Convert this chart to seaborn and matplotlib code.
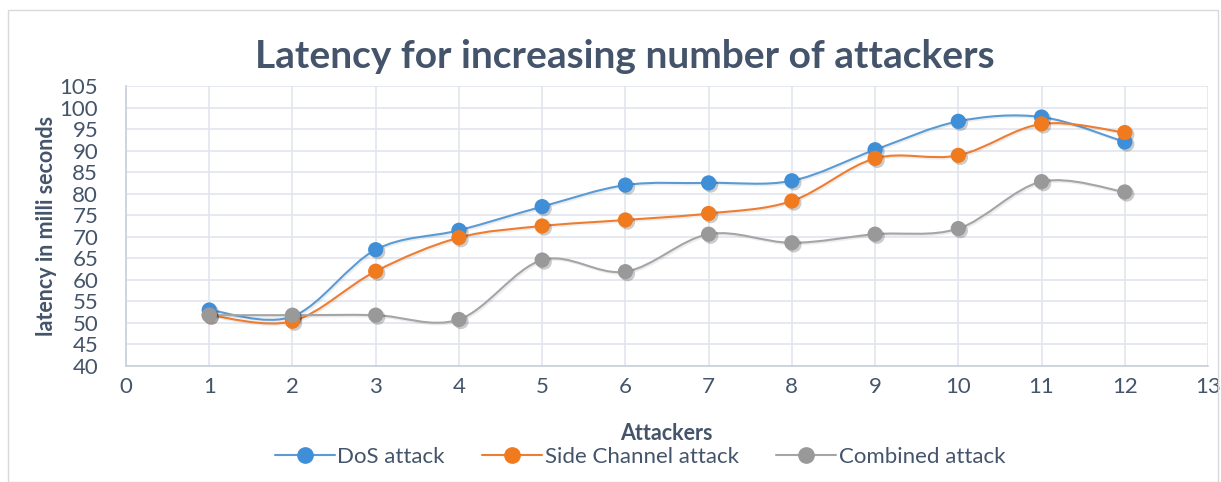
import numpy as np
import pandas as pd
import seaborn as sns
import matplotlib.pyplot as plt
from matplotlib.path import Path
from matplotlib.patches import PathPatch, Rectangle
from matplotlib.lines import Line2D
import matplotlib.patheffects as pe

# Datos
attackers = [1, 2, 3, 4, 5, 6, 7, 8, 9, 10, 11, 12]
dos_attack = [53.0, 51.5, 67.0, 71.5, 77.0, 82.0, 82.5, 83.0, 90.2, 96.8, 97.8, 92.0]
side_channel = [51.8, 50.4, 62.0, 69.8, 72.5, 73.9, 75.4, 78.3, 88.2, 88.9, 96.2, 94.2]
combined = [51.8, 51.8, 51.8, 50.8, 64.6, 61.9, 70.6, 68.6, 70.6, 71.9, 82.8, 80.4]

series_names = ["DoS attack", "Side Channel attack", "Combined attack"]
colores = ["#5B9BD5", "#ED7D31", "#A5A5A5"]
marcadores = ["#3F8FD8", "#F07A1E", "#999999"]
texto = "#44546A"

df = pd.DataFrame({
    "Attackers": attackers * 3,
    "latency": dos_attack + side_channel + combined,
    "serie": [n for n in series_names for _ in attackers],
})

sns.set_theme(style="white")
plt.rcParams["font.family"] = ["Lato", "DejaVu Sans"]

fig = plt.figure(figsize=(12.21, 4.82), dpi=100)
ax = fig.add_axes([126 / 1221, 1 - 366 / 482, (1208 - 126) / 1221, (366 - 86) / 482])


def suavizar(xs, ys):
    """Curva tipo Excel (Catmull-Rom convertido a Bezier cubico)"""
    pts = np.column_stack([xs, ys]).astype(float)
    ext = np.vstack([pts[0], pts, pts[-1]])
    verts = [pts[0]]
    codes = [Path.MOVETO]
    for i in range(len(pts) - 1):
        p0, p1, p2, p3 = ext[i], ext[i + 1], ext[i + 2], ext[i + 3]
        c1 = p1 + (p2 - p0) / 6.0
        c2 = p2 - (p3 - p1) / 6.0
        verts += [c1, c2, p2]
        codes += [Path.CURVE4] * 3
    return Path(verts, codes)


sombra_linea = [pe.Stroke(offset=(1.0, -1.0), foreground="#000000", alpha=0.07, linewidth=1.8),
                pe.Normal()]

for nombre, color in zip(series_names, colores):
    sub = df[df["serie"] == nombre]
    ax.add_patch(PathPatch(suavizar(sub["Attackers"], sub["latency"]), fill=False,
                           edgecolor=color, lw=1.5, zorder=3, path_effects=sombra_linea))

sns.scatterplot(data=df, x="Attackers", y="latency", hue="serie", palette=marcadores,
                s=120, edgecolor="none", legend=False, ax=ax, zorder=4)
for coll in ax.collections:
    coll.set_path_effects([pe.SimplePatchShadow(offset=(1.5, -1.5), shadow_rgbFace="black",
                                                alpha=0.2), pe.Normal()])

ax.set_xlim(0, 13)
ax.set_ylim(40, 105)
ax.set_xticks(range(0, 14))
ax.set_yticks(range(40, 106, 5))
ax.grid(True, color="#E1E5EC", lw=1.2)
ax.set_axisbelow(True)
for lado in ["top", "right"]:
    ax.spines[lado].set_visible(False)
for lado in ["left", "bottom"]:
    ax.spines[lado].set_color("#C7CFDC")
    ax.spines[lado].set_linewidth(1.2)
ax.tick_params(axis="x", length=0, labelsize=16, labelcolor=texto, pad=8)
ax.tick_params(axis="y", length=0, labelsize=16, labelcolor=texto, pad=20)
ax.set_xlabel("")
ax.set_ylabel("")

fig.text(47 / 1221, 1 - 226 / 482, "latency in milli seconds", rotation=90, ha="center",
         va="center", fontsize=15.5, fontweight="bold", color=texto)
fig.text(666 / 1221, 1 - 434 / 482, "Attackers", ha="center", va="center",
         fontsize=15.5, fontweight="bold", color=texto)
fig.text(625 / 1221, 1 - 57 / 482, "Latency for increasing number of attackers",
         ha="center", va="center", fontsize=28, fontweight="bold", color=texto)

handles = [Line2D([0], [0], color=c, lw=1.5, marker="o", markersize=11,
                  markerfacecolor=m, markeredgecolor=m)
           for c, m in zip(colores, marcadores)]
fig.legend(handles, series_names, loc="center", bbox_to_anchor=(640 / 1221, 1 - 457 / 482),
           ncol=3, frameon=False, fontsize=16, labelcolor=texto, handlelength=2.7,
           handletextpad=0.1, columnspacing=1.7)

fig.patches.append(Rectangle((8 / 1221, 0), 1 - 11 / 1221, 1 - 10 / 482,
                             transform=fig.transFigure, fill=False,
                             edgecolor="#D9D9D9", lw=1))

fig.savefig("out.png", dpi=100)
